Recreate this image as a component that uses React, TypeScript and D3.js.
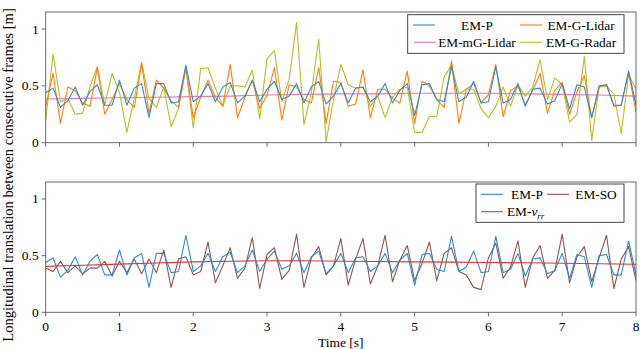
import React from "react";
import * as d3 from "d3";

// samples every 0.1 s, 0 .. 8 s
const emP = [
  0.44, 0.48, 0.31, 0.37, 0.49, 0.33, 0.45, 0.51, 0.33, 0.33,
  0.55, 0.33, 0.48, 0.52, 0.22, 0.52, 0.52, 0.35, 0.36, 0.68,
  0.36, 0.41, 0.52, 0.36, 0.49, 0.53, 0.35, 0.41, 0.55, 0.36,
  0.47, 0.54, 0.38, 0.41, 0.52, 0.35, 0.49, 0.54, 0.34, 0.41,
  0.52, 0.35, 0.48, 0.49, 0.36, 0.41, 0.52, 0.35, 0.46, 0.52,
  0.24, 0.51, 0.52, 0.38, 0.36, 0.67, 0.36, 0.40, 0.54, 0.35,
  0.36, 0.67, 0.35, 0.38, 0.52, 0.32, 0.47, 0.48, 0.34, 0.37,
  0.52, 0.30, 0.51, 0.49, 0.22, 0.50, 0.51, 0.33, 0.33, 0.63, 0.33,
];
const emGLidar = [
  0.32, 0.61, 0.17, 0.49, 0.46, 0.35, 0.32, 0.66, 0.25, 0.38,
  0.52, 0.38, 0.31, 0.69, 0.26, 0.55, 0.48, 0.37, 0.31, 0.66,
  0.22, 0.40, 0.55, 0.40, 0.32, 0.69, 0.22, 0.40, 0.55, 0.30,
  0.42, 0.66, 0.20, 0.51, 0.49, 0.38, 0.35, 0.66, 0.17, 0.54,
  0.53, 0.32, 0.34, 0.64, 0.22, 0.47, 0.47, 0.39, 0.35, 0.63,
  0.17, 0.54, 0.50, 0.38, 0.31, 0.72, 0.17, 0.47, 0.52, 0.35,
  0.42, 0.69, 0.23, 0.46, 0.50, 0.33, 0.46, 0.61, 0.26, 0.46,
  0.53, 0.25, 0.45, 0.59, 0.22, 0.49, 0.51, 0.32, 0.33, 0.62, 0.27,
];
const emGRadar = [
  0.20, 0.78, 0.36, 0.39, 0.25, 0.26, 0.49, 0.67, 0.33, 0.61,
  0.44, 0.09, 0.39, 0.71, 0.39, 0.31, 0.49, 0.14, 0.30, 0.66,
  0.13, 0.65, 0.66, 0.48, 0.32, 0.50, 0.50, 0.49, 0.64, 0.21,
  0.74, 0.81, 0.36, 0.56, 1.06, 0.16, 0.44, 0.91, 0.01, 0.38,
  0.69, 0.51, 0.48, 0.49, 0.32, 0.41, 0.22, 0.40, 0.47, 0.49,
  0.09, 0.09, 0.23, 0.23, 0.58, 0.68, 0.43, 0.47, 0.47, 0.30,
  0.22, 0.32, 0.49, 0.32, 0.51, 0.41, 0.49, 0.73, 0.38, 0.57,
  0.51, 0.18, 0.25, 0.76, 0.02, 0.49, 0.50, 0.43, 0.08, 0.60, 0.47,
];
const emSO = [
  0.39, 0.36, 0.45, 0.35, 0.41, 0.34, 0.39, 0.39, 0.45, 0.32,
  0.45, 0.35, 0.47, 0.34, 0.47, 0.35, 0.55, 0.22, 0.47, 0.49,
  0.33, 0.36, 0.62, 0.26, 0.41, 0.57, 0.30, 0.39, 0.66, 0.21,
  0.51, 0.57, 0.29, 0.37, 0.69, 0.22, 0.48, 0.58, 0.33, 0.41,
  0.65, 0.24, 0.47, 0.65, 0.25, 0.41, 0.68, 0.27, 0.46, 0.59,
  0.28, 0.43, 0.62, 0.28, 0.52, 0.57, 0.36, 0.33, 0.22, 0.20,
  0.48, 0.61, 0.30, 0.40, 0.63, 0.22, 0.48, 0.59, 0.30, 0.37,
  0.69, 0.26, 0.49, 0.58, 0.27, 0.48, 0.68, 0.21, 0.47, 0.58, 0.28,
];
// smooth estimates, every 0.5 s
const emMGLidar = [0.385, 0.39, 0.395, 0.4, 0.405, 0.41, 0.42, 0.425, 0.43, 0.43, 0.435, 0.435, 0.435, 0.43, 0.425, 0.42, 0.41];
const emVrr = [0.405, 0.415, 0.425, 0.435, 0.445, 0.45, 0.455, 0.455, 0.45, 0.448, 0.445, 0.443, 0.44, 0.437, 0.433, 0.428, 0.424];

const xTicks = [0, 1, 2, 3, 4, 5, 6, 7, 8];
const yTicks = [0, 0.5, 1];

const C = {
  blue: "#2f8bcc",
  orange: "#ff7f0e",
  pink: "#e377c2",
  olive: "#bcbd22",
  brown: "#8c564b",
  red: "#e8312f",
};

const W = 640;
const H = 349;
const left = 45.7;
const right = 636;
const FONT = "'Liberation Serif', 'DejaVu Serif', serif";

const x = d3.scaleLinear().domain([0, 8]).range([left, right]);

const toPts = (arr: number[], step: number) => arr.map((v, i) => [i * step, v] as [number, number]);

type Series = { data: number[]; step: number; color: string };

function Panel({ top, bottom, series, showXLabels }: { top: number; bottom: number; series: Series[]; showXLabels: boolean }) {
  const y = d3.scaleLinear().domain([0, 1.15]).range([bottom, top]);
  const line = d3
    .line<[number, number]>()
    .x((d) => x(d[0]))
    .y((d) => y(d[1]));
  const clipId = `clip${Math.round(top)}`;
  return (
    <g>
      <defs>
        <clipPath id={clipId}>
          <rect x={left} y={top} width={right - left} height={bottom - top} />
        </clipPath>
      </defs>
      <g clipPath={`url(#${clipId})`}>
        {series.map((s, i) => (
          <path key={i} d={line(toPts(s.data, s.step)) || ""} fill="none" stroke={s.color} strokeWidth={1.1} strokeLinejoin="round" />
        ))}
      </g>
      <rect x={left} y={top} width={right - left} height={bottom - top} fill="none" stroke="#5a5a5a" strokeWidth={0.9} />
      {xTicks.map((t) => (
        <g key={t}>
          <line x1={x(t)} x2={x(t)} y1={bottom} y2={bottom + 4} stroke="#5a5a5a" strokeWidth={0.9} />
          {showXLabels && (
            <text x={x(t)} y={bottom + 19} textAnchor="middle" fontSize={13.5} fontFamily={FONT}>
              {t}
            </text>
          )}
        </g>
      ))}
      {yTicks.map((t) => (
        <g key={t}>
          <line x1={left - 4} x2={left} y1={y(t)} y2={y(t)} stroke="#5a5a5a" strokeWidth={0.9} />
          <text x={left - 7} y={y(t) + 4.5} textAnchor="end" fontSize={13.5} fontFamily={FONT}>
            {t}
          </text>
        </g>
      ))}
    </g>
  );
}

function LegendItem({ x0, y0, color, label, textX, anchor }: { x0: number; y0: number; color: string; label: React.ReactNode; textX: number; anchor: string }) {
  return (
    <g>
      <line x1={x0} x2={x0 + 22} y1={y0} y2={y0} stroke={color} strokeWidth={1.1} />
      <text x={textX} y={y0 + 4.5} textAnchor={anchor} fontSize={13.3} fontFamily={FONT}>
        {label}
      </text>
    </g>
  );
}

export default function App() {
  const topSeries: Series[] = [
    { data: emMGLidar, step: 0.5, color: C.pink },
    { data: emGRadar, step: 0.1, color: C.olive },
    { data: emGLidar, step: 0.1, color: C.orange },
    { data: emP, step: 0.1, color: C.blue },
  ];
  const bottomSeries: Series[] = [
    { data: emSO, step: 0.1, color: C.brown },
    { data: emP, step: 0.1, color: C.blue },
    { data: emVrr, step: 0.5, color: C.red },
  ];
  return (
    <svg width={W} height={H} style={{ position: "absolute", left: 0, top: 0, background: "#fff" }}>
      <Panel top={12} bottom={142.7} series={topSeries} showXLabels={false} />
      <Panel top={182} bottom={312.3} series={bottomSeries} showXLabels={true} />

      {/* top legend */}
      <rect x={407.7} y={14.7} width={216.3} height={38.6} fill="#fff" stroke="#333" strokeWidth={0.9} />
      <LegendItem x0={413} y0={25} color={C.blue} label="EM-P" textX={477} anchor="middle" />
      <LegendItem x0={520} y0={25} color={C.orange} label="EM-G-Lidar" textX={581} anchor="middle" />
      <LegendItem x0={414} y0={42.3} color={C.pink} label="EM-mG-Lidar" textX={477} anchor="middle" />
      <LegendItem x0={520} y0={42.3} color={C.olive} label="EM-G-Radar" textX={581} anchor="middle" />

      {/* bottom legend */}
      <rect x={476} y={184} width={148} height={38.3} fill="#fff" stroke="#333" strokeWidth={0.9} />
      <LegendItem x0={481} y0={194.3} color={C.blue} label="EM-P" textX={527} anchor="middle" />
      <LegendItem x0={547} y0={194.3} color={C.brown} label="EM-SO" textX={596} anchor="middle" />
      <LegendItem
        x0={481}
        y0={211.7}
        color={C.red}
        label={
          <>
            EM-
            <tspan fontStyle="italic">v</tspan>
            <tspan fontStyle="italic" fontSize={9} dy={2.5}>
              rr
            </tspan>
          </>
        }
        textX={507}
        anchor="start"
      />

      <text x={340.8} y={347} textAnchor="middle" fontSize={13.5} fontFamily={FONT}>
        Time [s]
      </text>
      <text
        transform="translate(12.5,175) rotate(-90)"
        textAnchor="middle"
        fontSize={14.6}
        fontFamily={FONT}
      >
        Longitudinal translation between consecutive frames [m]
      </text>
    </svg>
  );
}
